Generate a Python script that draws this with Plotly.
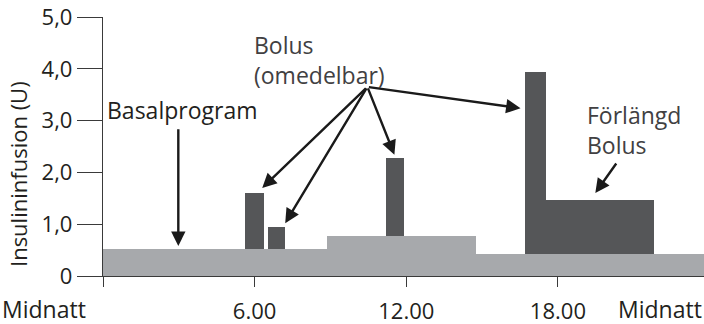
import plotly.graph_objects as go

# Basal program: segment start/end (hours) and rate (U)
basal_start = [0.0, 8.86, 14.77]
basal_end = [8.86, 14.77, 24.0]
basal_rate = [0.53, 0.78, 0.42]

# Bolus doses: start/end (hours), base level and top level (U)
bolus_start = [5.63, 6.53, 11.20, 16.68, 17.54]
bolus_end = [6.36, 7.21, 11.92, 17.54, 21.80]
bolus_base = [0.53, 0.53, 0.78, 0.42, 0.42]
bolus_top = [1.60, 0.94, 2.27, 3.93, 1.47]

y_ticks = [0, 1, 2, 3, 4, 5]
y_tick_text = ["0", "1,0", "2,0", "3,0", "4,0", "5,0"]
x_ticks = [0, 6, 12, 18]
x_tick_text = ["", "6.00", "12.00", "18.00"]

FONT = "Open Sans"
TXT = "#231f20"
GREY_TXT = "#414042"

# Plot area in pixels (used to place free text labels)
W, H = 704, 324
L, R, T, B = 103, 0, 17, 48
PW, PH = W - L - R, H - T - B

fig = go.Figure()

fig.add_trace(go.Bar(
    x=[(s + e) / 2 for s, e in zip(basal_start, basal_end)],
    width=[e - s for s, e in zip(basal_start, basal_end)],
    y=basal_rate,
    base=[0] * len(basal_rate),
    marker=dict(color="#a7a9ac", line=dict(width=0)),
    hoverinfo="skip",
))

fig.add_trace(go.Bar(
    x=[(s + e) / 2 for s, e in zip(bolus_start, bolus_end)],
    width=[e - s for s, e in zip(bolus_start, bolus_end)],
    y=[t - b for t, b in zip(bolus_top, bolus_base)],
    base=bolus_base,
    marker=dict(color="#555658", line=dict(width=0)),
    hoverinfo="skip",
))

arrow = dict(showarrow=True, arrowhead=2, arrowsize=1.2, arrowwidth=2.4,
             arrowcolor="#1a1a1a", axref="x", ayref="y", text="")

# Basal arrow
fig.add_annotation(x=2.98, y=0.58, ax=2.98, ay=2.86, **arrow)
# Immediate bolus arrows from a common origin
origin = (10.46, 3.65)
for tx, ty in [(6.30, 1.70), (7.21, 1.02), (11.53, 2.34), (16.52, 3.24)]:
    fig.add_annotation(x=tx, y=ty, ax=origin[0], ay=origin[1], **arrow)
# Extended bolus arrow
fig.add_annotation(x=19.48, y=1.60, ax=20.35, ay=2.20, **arrow)


def label(text, px, py, anchor="left", color=TXT, size=23, angle=0):
    fig.add_annotation(text=text, x=(px - L) / PW, y=(H - B - py) / PH,
                       xanchor=anchor, yanchor="middle", xref="paper", yref="paper",
                       showarrow=False, textangle=angle, align="left",
                       font=dict(family=FONT, size=size, color=color))


fig.update_layout(
    width=W, height=H,
    margin=dict(l=L, r=R, t=T, b=B, autoexpand=False),
    paper_bgcolor="white", plot_bgcolor="white",
    showlegend=False, barmode="overlay", bargap=0,
    xaxis=dict(range=[0, 23.78], tickvals=x_ticks, ticktext=x_tick_text,
               ticks="outside", ticklen=10, tickwidth=1.3, tickcolor="#3a3a3a",
               showline=True, linecolor="#3a3a3a", linewidth=1.3,
               showgrid=False, zeroline=False, ticklabelstandoff=5,
               automargin=False,
               tickfont=dict(family=FONT, size=22, color=TXT)),
    yaxis=dict(range=[0, 5], tickvals=y_ticks, ticktext=y_tick_text,
               ticks="outside", ticklen=25, tickwidth=1.3, tickcolor="#3a3a3a",
               showline=True, linecolor="#3a3a3a", linewidth=1.3,
               showgrid=False, zeroline=False, automargin=False,
               tickfont=dict(family=FONT, size=22, color=TXT)),
)

# Axis title and midnight labels
label("Insulininfusion (U)", 18, 174, anchor="center", size=22, angle=-90)
label("Midnatt", 0, 309, size=23)
label("Midnatt", 704, 309, anchor="right", size=23)

label("Basalprogram", 105, 110)
label("Bolus<br>(omedelbar)", 252, 60, color=GREY_TXT)
label("Förlängd<br>Bolus", 585, 130, color=GREY_TXT)

fig.write_html("out.html")
